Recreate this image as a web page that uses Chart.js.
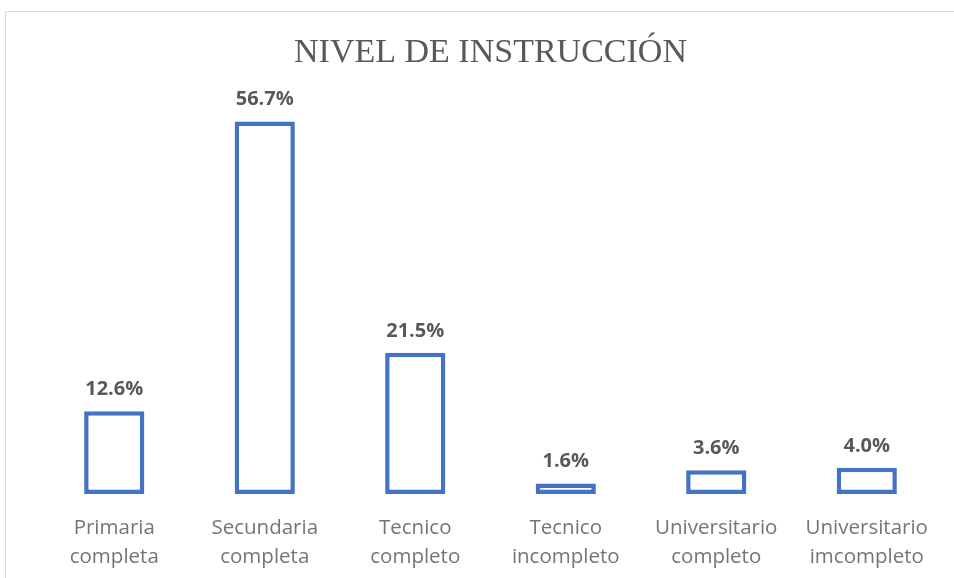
<!DOCTYPE html>
<html>
<head>
<meta charset="utf-8">
<script src="https://cdn.jsdelivr.net/npm/chart.js@4"></script>
<style>
  body { margin: 0; background: #fff; overflow: hidden; }
  #frame {
    position: absolute; left: 5px; top: 11px;
    width: 1200px; height: 800px;
    border: 1px solid #d9d9d9;
  }
  #chart { position: absolute; left: 0; top: 0; }
</style>
</head>
<body>
<div id="frame"></div>
<canvas id="chart" width="954" height="578"></canvas>
<script>
const categories = [
  ["Primaria", "completa"],
  ["Secundaria", "completa"],
  ["Tecnico", "completo"],
  ["Tecnico", "incompleto"],
  ["Universitario", "completo"],
  ["Universitario", "imcompleto"],
];
const percentages = [12.6, 56.7, 21.5, 1.6, 3.6, 4.0];
const chartTitle = "NIVEL DE INSTRUCCIÓN";

// draws the "xx.x%" labels above each bar
const valueLabels = {
  id: "valueLabels",
  afterDatasetsDraw(chart) {
    const ctx = chart.ctx;
    const meta = chart.getDatasetMeta(0);
    ctx.save();
    ctx.font = "bold 20px 'Open Sans'";
    ctx.fillStyle = "#595959";
    ctx.textAlign = "center";
    ctx.textBaseline = "alphabetic";
    meta.data.forEach((bar, i) => {
      ctx.fillText(percentages[i].toFixed(1) + "%", bar.x, bar.y - 16);
    });
    ctx.restore();
  },
};

new Chart(document.getElementById("chart"), {
  type: "bar",
  data: {
    labels: categories,
    datasets: [
      {
        data: percentages,
        backgroundColor: "#ffffff",
        borderColor: "#4472c4",
        borderWidth: 4.5,
        borderSkipped: false,
        barPercentage: 0.8,
        categoryPercentage: 0.5,
      },
    ],
  },
  options: {
    responsive: false,
    animation: false,
    layout: { padding: { left: 39, right: 12, top: 0, bottom: 0 } },
    plugins: {
      legend: { display: false },
      tooltip: { enabled: false },
      title: {
        display: true,
        text: chartTitle,
        color: "#595959",
        font: { family: "'Liberation Serif'", size: 34, weight: "normal", lineHeight: 1.2 },
        padding: { top: 33, bottom: 26 },
      },
    },
    scales: {
      x: {
        grid: { display: false, drawTicks: false },
        border: { display: false },
        afterFit: (scale) => {
          scale.height = 84;
        },
        ticks: {
          color: "#757575",
          font: { family: "'Open Sans'", size: 20.5, lineHeight: 1.45 },
          padding: 19,
          maxRotation: 0,
          autoSkip: false,
        },
      },
      y: {
        display: false,
        min: 0,
        max: 60,
      },
    },
  },
  plugins: [valueLabels],
});
</script>
</body>
</html>
